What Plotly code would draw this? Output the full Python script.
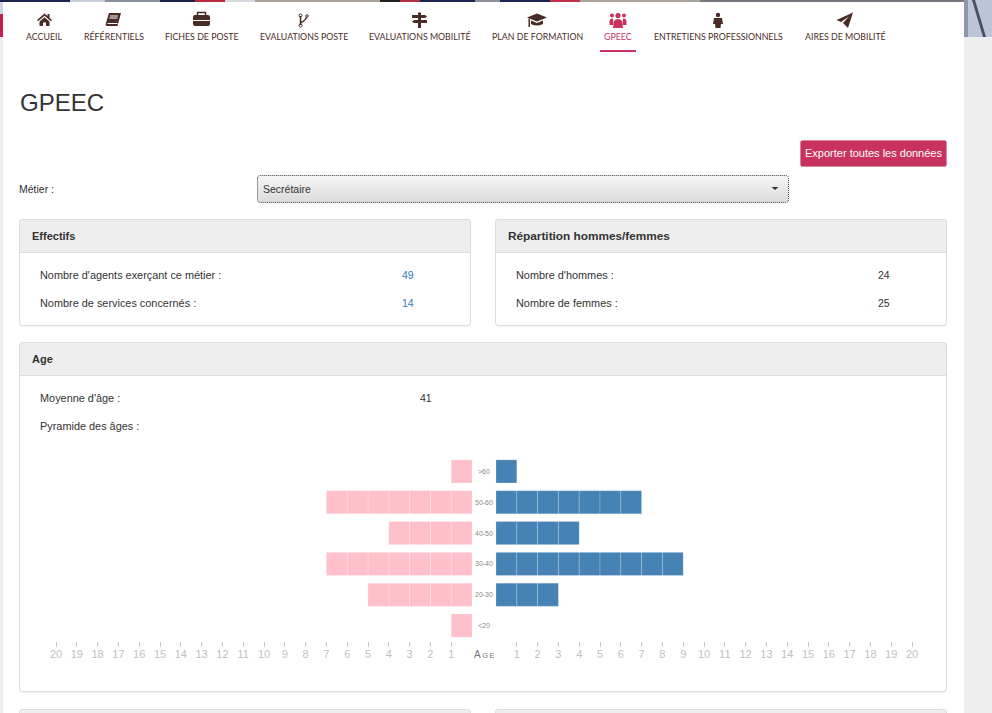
import plotly.graph_objects as go
import re

W, H = 992, 713
age_groups = ["<20", "20-30", "30-40", "40-50", "50-60", ">60"]
femmes = [1, 5, 7, 4, 7, 1]
hommes = [0, 3, 9, 4, 7, 1]
ticks = list(range(1, 21))
nav_labels = ["ACCUEIL", "RÉFÉRENTIELS", "FICHES DE POSTE", "EVALUATIONS POSTE", "EVALUATIONS MOBILITÉ",
              "PLAN DE FORMATION", "GPEEC", "ENTRETIENS PROFESSIONNELS", "AIRES DE MOBILITÉ"]
nav_x = [44, 113.5, 201.5, 304, 419.5, 537, 618, 718.5, 845]

SANS = "Liberation Sans"
BROWN = "#4a2c26"
ROSE = "#c9325f"


def fx(x):
    return x / W


def fy(y):
    return 1 - y / H


def path(s, cx=0, cy=0):
    out, buf = [], []
    for t in s.split():
        if re.match(r"^[A-Za-z]$", t):
            out.append(t)
        else:
            buf.append(float(t))
            if len(buf) == 2:
                out.append(f"{fx(cx + buf[0]):.5f},{fy(cy + buf[1]):.5f}")
                buf = []
    return " ".join(out)


def rrect(x0, y0, x1, y1, r=3, top_only=False):
    b = (f"L {x1} {y1} L {x0} {y1}" if top_only else
         f"L {x1} {y1 - r} Q {x1} {y1} {x1 - r} {y1} L {x0 + r} {y1} Q {x0} {y1} {x0} {y1 - r}")
    return path(f"M {x0} {y0 + r} Q {x0} {y0} {x0 + r} {y0} L {x1 - r} {y0} Q {x1} {y0} {x1} {y0 + r} {b} Z")


def circ(x, y, r):
    return (f"M {x - r} {y} Q {x - r} {y - r} {x} {y - r} Q {x + r} {y - r} {x + r} {y} "
            f"Q {x + r} {y + r} {x} {y + r} Q {x - r} {y + r} {x - r} {y} Z ")


shapes = []


def rect(x0, y0, x1, y1, color):
    shapes.append(dict(type="rect", xref="paper", yref="paper", x0=fx(x0), x1=fx(x1), y0=fy(y1), y1=fy(y0),
                       fillcolor=color, line_width=0, layer="below"))


def pshape(d, fill=None, line=None, lw=1, dash=None):
    ln = dict(width=lw if line else 0)
    if line:
        ln["color"] = line
    if dash:
        ln["dash"] = dash
    shapes.append(dict(type="path", xref="paper", yref="paper", path=d, fillcolor=fill or "rgba(0,0,0,0)",
                       line=ln, layer="below"))


# page background
rect(0, 0, W, H, "#eeeeee")
rect(3, 2, 964, H, "#ffffff")
# header photo strips
for x0, x1, c in [(0, 70, "#1b2350"), (70, 105, "#c9cdd8"), (105, 160, "#8a8f9c"), (160, 195, "#1a2148"),
                  (195, 225, "#b8293f"), (225, 255, "#d8d8e0"), (255, 380, "#a8a29a"), (380, 400, "#222"),
                  (400, 420, "#b03048"), (420, 475, "#1d2350"), (475, 500, "#8e8e96"), (500, 550, "#1b2350"),
                  (550, 580, "#c23050"), (580, 700, "#aaa49c"), (700, 964, "#76787e")]:
    rect(x0, 0, x1, 2, c)
rect(0, 2, 3, 14, "#cfd3e6")
rect(0, 14, 3, 37, "#c81e4c")
rect(964, 0, 992, 37, "#bcc6d8")
pshape(path("M 972 0 L 975 0 L 986 37 L 983 37 Z"), fill="#4a5060")
pshape(path("M 964 0 L 968 0 L 968 37 L 964 37 Z"), fill="#8e98aa")

# nav active underline
rect(600, 50, 636, 52, ROSE)

# nav icons
pshape(path("M -7.5 0 L 0 -6.5 L 3 -4 L 3 -6 L 5 -6 L 5 -2.3 L 7.5 0 L 6.5 1.2 L 0 -4.2 L -6.5 1.2 Z", 44.5, 20), fill=BROWN)
pshape(path("M -5 1.4 L 0 -2.8 L 5 1.4 L 5 6 L 1.5 6 L 1.5 2.5 L -1.5 2.5 L -1.5 6 L -5 6 Z", 44.5, 20), fill=BROWN)
pshape(path("M -4 -7 L 8 -7 L 4.5 6 L -6 6 Q -8 6 -7 3 Z", 113, 20), fill=BROWN)
pshape(path("M -3 -4 L 5 -4 M -3.6 -2 L 4.4 -2 M -5.5 3.5 L 4.5 3.5", 113, 20), line="#ffffff", lw=1)
pshape(rrect(193, 15, 210, 26, 2), fill=BROWN)
pshape(path("M 197.5 15 L 197.5 12.5 L 205.5 12.5 L 205.5 15", 0, 0), line=BROWN, lw=1.5)
pshape(path("M 193 20.5 L 210 20.5", 0, 0), line="#ffffff", lw=1)
pshape(path("M 300.5 16 L 300.5 25 M 300.5 23 Q 306 20 306.5 17", 0, 0), line=BROWN, lw=1.5)
pshape(path(circ(300.5, 15.5, 1.5) + circ(300.5, 25.5, 1.5) + circ(307, 16, 1.3)), line=BROWN, lw=1)
rect(418, 12.5, 421, 28, BROWN)
pshape(path("M 412 15 L 425 15 L 427 16.5 L 425 18 L 412 18 Z"), fill=BROWN)
pshape(path("M 414 20 L 427 20 L 427 23 L 414 23 L 412 21.5 Z"), fill=BROWN)
pshape(path("M 527 17.5 L 537 13.5 L 547 17.5 L 537 21.5 Z"), fill=BROWN)
pshape(path("M 531 20.5 L 537 23 L 543 20.5 L 543 24 Q 537 27 531 24 Z"), fill=BROWN)
pshape(path("M 528.5 18 L 528.5 27 L 530 27 L 530 19 Z"), fill=BROWN)
pshape(path(circ(618, 15.5, 2.6) + circ(612, 15.5, 2) + circ(624, 15.5, 2)), fill=ROSE)
pshape(path("M 614 21 Q 618 17 622 21 L 623 28 L 613 28 Z"), fill=ROSE)
pshape(path("M 609.5 25 L 609.5 21 Q 610 18.5 613 18.5 L 613.5 25 Z M 626.5 25 L 626.5 21 Q 626 18.5 623 18.5 L 622.5 25 Z"), fill=ROSE)
pshape(path(circ(718, 15, 2.2)), fill=BROWN)
pshape(path("M 714 18 L 722 18 L 723 24 L 721 24 L 720.5 28 L 715.5 28 L 715 24 L 713 24 Z"), fill=BROWN)
pshape(path("M 853 12.5 L 848 28 L 843 23 L 849 16.5 L 841 22 L 836.5 20 Z"), fill=BROWN)

# export button
pshape(rrect(800.5, 140.5, 946.5, 166.5, 2), fill=ROSE, line="#d9849e")

# select with gradient
top, bot = 176, 202
n = bot - top
for i in range(n):
    v = int(246 - (246 - 220) * i / (n - 1))
    rect(258, top + i, 788, top + i + 1, f"rgb({v},{v},{v})")
pshape(rrect(257.5, 175.5, 788.5, 202.5, 3), line="#333333", lw=1, dash="1px,1px")
pshape(path("M 771.5 187 L 778.5 187 L 775 190 Z"), fill="#333333")


def panel(x0, y0, x1, y1, yh):
    pshape(rrect(x0, y0 + 1, x1, y1 + 1, 3), fill="#e6e6e6")
    pshape(rrect(x0, y0, x1, y1, 3), fill="#ffffff", line="#dddddd")
    pshape(rrect(x0, y0, x1, yh, 3, top_only=True), fill="#eeeeee", line="#dddddd")


panel(19.5, 219.5, 470.5, 325.5, 252.5)
panel(495.5, 219.5, 946.5, 325.5, 252.5)
panel(19.5, 342.5, 946.5, 691.5, 375.5)
panel(19.5, 709.5, 470.5, 760, 740)
panel(495.5, 709.5, 946.5, 760, 740)

ann = []


def text(x, y, s, size=10.9, color="#333333", anchor="left", family=SANS):
    ann.append(dict(x=fx(x - 1 if anchor == "left" else x), y=fy(y), xref="paper", yref="paper", text=s,
                    showarrow=False, xanchor=anchor, yanchor="middle",
                    font=dict(family=family, size=size, color=color), borderpad=0, align=anchor))


for lab, xc in zip(nav_labels, nav_x):
    text(xc, 36.5, lab, 8.8, ROSE if lab == "GPEEC" else BROWN, "center", "Lato")
text(20, 103, "GPEEC", 24)
text(873.5, 153, "Exporter toutes les données", 11, "#ffffff", "center")
text(19, 189, "Métier :", 10.5)
text(263, 189, "Secrétaire", 10.5)
text(32, 236, "<b>Effectifs</b>", 11)
text(508, 236, "<b>Répartition hommes/femmes</b>", 11.8)
text(32, 359, "<b>Age</b>", 11)
text(40, 275, "Nombre d'agents exerçant ce métier :")
text(40, 303, "Nombre de services concernés :")
text(408, 275, "49", 10.5, "#337ab7", "center")
text(408, 303, "14", 10.5, "#337ab7", "center")
text(516, 275, "Nombre d'hommes :")
text(516, 303, "Nombre de femmes :")
text(884, 275, "24", 10.5, "#333333", "center")
text(884, 303, "25", 10.5, "#333333", "center")
text(40, 398, "Moyenne d'âge :")
text(40, 426, "Pyramide des âges :")
text(426, 398, "41", 10.5, "#333333", "center")
text(484, 654.5, "A<span style='font-size:7.5px'>\u2009G\u2009E</span>", 10, "#777777", "center")
for g in age_groups:
    ann.append(dict(x=fx(484), y=g, xref="paper", yref="y", text=g, showarrow=False, xanchor="center",
                    yanchor="middle", font=dict(family=SANS, size=7, color="#888888")))


def segments(values):
    ys, xs, bases = [], [], []
    for g, v in zip(age_groups, values):
        for i in range(v):
            ys.append(g)
            xs.append(1)
            bases.append(i)
    return ys, xs, bases


fig = go.Figure()
for vals, col, xa, ya, name in [(femmes, "#ffc0cb", "x", "y", "Femmes"), (hommes, "#4682b4", "x2", "y2", "Hommes")]:
    ys, xs, bases = segments(vals)
    fig.add_trace(go.Bar(x=xs, y=ys, base=bases, orientation="h", name=name, xaxis=xa, yaxis=ya, marker=dict(
        color=col, line=dict(color="rgba(255,255,255,0.2)", width=1)), width=0.75))

xax = dict(tickvals=ticks, ticktext=[str(t) for t in ticks], ticks="outside", ticklen=5, tickwidth=1,
           tickcolor="#cccccc", tickfont=dict(family=SANS, size=11, color="#c0c0c0"), showgrid=False, zeroline=False,
           showline=False, fixedrange=True, ticklabelstandoff=-2)
yax = dict(categoryorder="array", categoryarray=age_groups, showticklabels=False, ticks="", showgrid=False,
           zeroline=False, showline=False, domain=[fy(641), fy(456)], range=[-0.5, 5.5], fixedrange=True)

fig.update_layout(
    width=W, height=H, margin=dict(l=0, r=0, t=0, b=0, autoexpand=False), showlegend=False, barmode="overlay",
    paper_bgcolor="#eeeeee", plot_bgcolor="rgba(0,0,0,0)", shapes=shapes, annotations=ann,
    xaxis={**xax, "range": [20, 0], "domain": [fx(56), fx(472)], "anchor": "y"},
    xaxis2={**xax, "range": [0, 20], "domain": [fx(496), fx(912)], "anchor": "y2"},
    yaxis={**yax, "anchor": "x"},
    yaxis2={**yax, "anchor": "x2"},
    font=dict(family=SANS),
)
fig.write_html("out.html", config={"displayModeBar": False},
               post_script="document.body.style.margin='0';document.body.style.overflow='hidden';")
